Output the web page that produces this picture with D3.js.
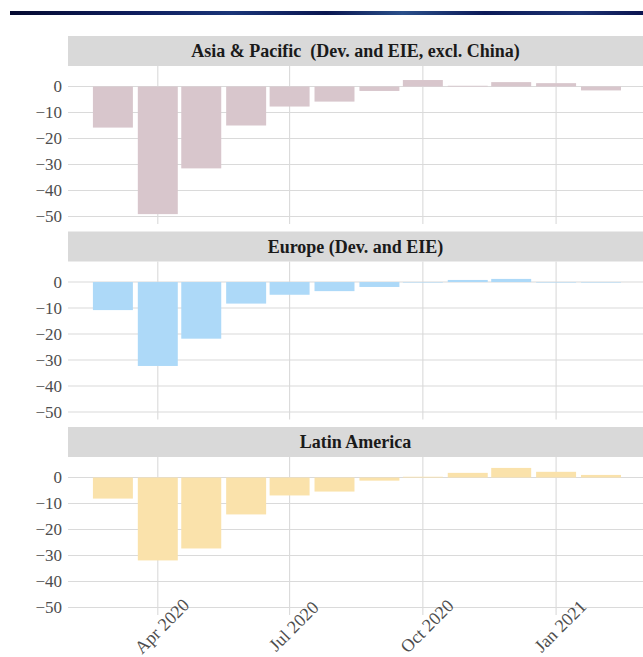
<!DOCTYPE html>
<html>
<head>
<meta charset="utf-8">
<script src="https://cdn.jsdelivr.net/npm/d3@7"></script>
<style>
  html, body { margin: 0; padding: 0; background: #fff; }
</style>
</head>
<body>
<div id="chart"></div>
<script>
// ---------------------------------------------------------------------------
// Data (percent change, monthly)
// ---------------------------------------------------------------------------
var months = ["2020-03-01", "2020-04-01", "2020-05-01", "2020-06-01", "2020-07-01", "2020-08-01",
              "2020-09-01", "2020-10-01", "2020-11-01", "2020-12-01", "2021-01-01", "2021-02-01"];
var regions = ["Asia & Pacific  (Dev. and EIE, excl. China)", "Europe (Dev. and EIE)", "Latin America"];
var asiaValues = [-15.8, -49.1, -31.5, -15.0, -7.7, -5.8, -1.7, 2.5, 0.3, 1.7, 1.3, -1.5];
var europeValues = [-10.8, -32.3, -21.8, -8.3, -4.9, -3.5, -1.9, -0.2, 0.8, 1.2, -0.2, -0.2];
var latamValues = [-8.1, -31.9, -27.3, -14.2, -6.9, -5.4, -1.2, 0.3, 1.8, 3.7, 2.2, 1.0];
var yTicks = [0, -10, -20, -30, -40, -50];
var xTicks = ["2020-04-01", "2020-07-01", "2020-10-01", "2021-01-01"];
var colors = ["#d8c6cc", "#add9f8", "#fae2ab"];

var seriesValues = [asiaValues, europeValues, latamValues];

// ---------------------------------------------------------------------------
// Layout
// ---------------------------------------------------------------------------
var width = 643, height = 657;
var left = 68, right = 643;
var panelTops = [36, 231.5, 427];
var stripH = 30, plotH = 158;
var serif = "Liberation Serif";

var parse = d3.utcParse("%Y-%m-%d");
var fmt = d3.utcFormat("%b %Y");

var svg = d3.select("#chart").append("svg")
    .attr("width", width)
    .attr("height", height)
    .style("display", "block");

// top banner
var grad = svg.append("defs").append("linearGradient")
    .attr("id", "banner");
[["0%", "#050a30"], ["20%", "#0f1e5e"], ["35%", "#1a3578"], ["50%", "#0a1650"],
 ["62%", "#2a4f8a"], ["75%", "#0c1a58"], ["90%", "#1c3272"], ["100%", "#0a1450"]]
    .forEach(function(s) {
        grad.append("stop").attr("offset", s[0]).attr("stop-color", s[1]);
    });
svg.append("rect")
    .attr("x", 10).attr("y", 11)
    .attr("width", width - 10).attr("height", 4)
    .attr("fill", "url(#banner)");

var x = d3.scaleUtc()
    .domain([parse("2020-01-30"), parse("2021-03-02")])
    .range([left, right]);

var barHalf = 13.8; // days each side of month start
var dayMs = 24 * 3600 * 1000;

regions.forEach(function(name, p) {
    var top = panelTops[p];
    var plotTop = top + stripH;
    var y = d3.scaleLinear()
        .domain([-52.9, 7.9])
        .range([plotTop + plotH, plotTop]);

    var g = svg.append("g");

    // strip
    g.append("rect")
        .attr("x", left).attr("y", top)
        .attr("width", right - left).attr("height", stripH)
        .attr("fill", "#d9d9d9");
    g.append("text")
        .attr("x", left + (right - left) / 2)
        .attr("y", top + stripH / 2)
        .attr("dy", "0.35em")
        .attr("text-anchor", "middle")
        .attr("font-family", serif)
        .attr("font-weight", "bold")
        .attr("font-size", 18)
        .attr("fill", "#1a1a1a")
        .style("white-space", "pre")
        .text(name);

    // gridlines
    g.selectAll(".hgrid")
        .data(yTicks)
        .enter().append("line")
        .attr("x1", left).attr("x2", right)
        .attr("y1", function(d) { return y(d); })
        .attr("y2", function(d) { return y(d); })
        .attr("stroke", "#dadada")
        .attr("stroke-width", 1.1);
    g.selectAll(".vgrid")
        .data(xTicks)
        .enter().append("line")
        .attr("x1", function(d) { return x(parse(d)); })
        .attr("x2", function(d) { return x(parse(d)); })
        .attr("y1", plotTop).attr("y2", plotTop + plotH)
        .attr("stroke", "#dadada")
        .attr("stroke-width", 1.1);

    // y labels
    g.selectAll(".ylab")
        .data(yTicks)
        .enter().append("text")
        .attr("x", 62)
        .attr("y", function(d) { return y(d); })
        .attr("dy", "0.35em")
        .attr("text-anchor", "end")
        .attr("font-family", serif)
        .attr("font-size", 17)
        .attr("fill", "#4d4d4d")
        .text(function(d) { return d === 0 ? "0" : "\u2212" + Math.abs(d); });

    // bars
    g.selectAll(".bar")
        .data(months.map(function(m, i) { return { date: parse(m), value: seriesValues[p][i] }; }))
        .enter().append("rect")
        .attr("x", function(d) { return x(new Date(+d.date - barHalf * dayMs)); })
        .attr("width", function(d) {
            return x(new Date(+d.date + barHalf * dayMs)) - x(new Date(+d.date - barHalf * dayMs));
        })
        .attr("y", function(d) { return y(Math.max(0, d.value)); })
        .attr("height", function(d) { return Math.abs(y(d.value) - y(0)); })
        .attr("fill", colors[p]);
});

// x labels (bottom panel)
svg.selectAll(".xlab")
    .data(xTicks)
    .enter().append("text")
    .attr("transform", function(d) {
        return "translate(" + (x(parse(d)) + 4) + ",626) rotate(-45)";
    })
    .attr("dy", "0.35em")
    .attr("text-anchor", "middle")
    .attr("font-family", serif)
    .attr("font-size", 18)
    .attr("fill", "#4d4d4d")
    .text(function(d) { return fmt(parse(d)); });
</script>
</body>
</html>
